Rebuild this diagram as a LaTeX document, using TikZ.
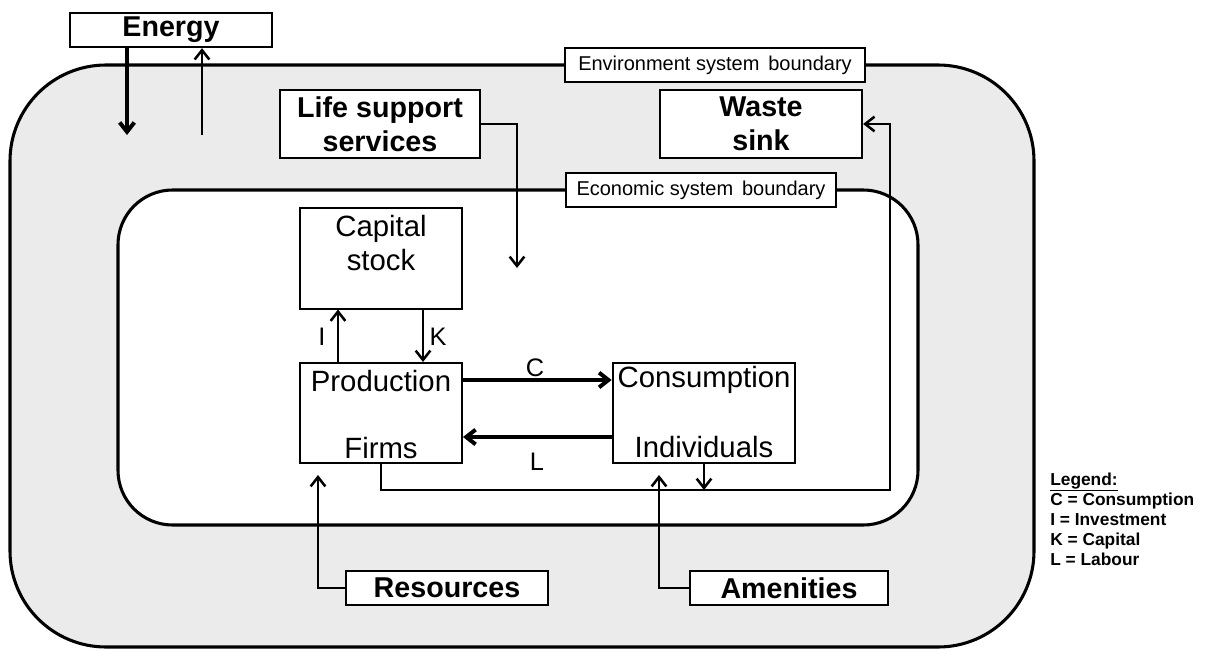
\documentclass[tikz,border=0pt]{standalone}
\usepackage{fontspec}
\setmainfont{Liberation Sans}
\usetikzlibrary{arrows.meta}
\definecolor{envgray}{RGB}{235,235,235}

\begin{document}
\begin{tikzpicture}[x=0.75pt, y=-0.75pt, >={Straight Barb[length=7pt,width=11pt]},
  envbox/.style={draw, fill=white, line width=1.7pt, inner sep=0pt, align=center, font=\fontsize{21.5}{25.5}\selectfont\bfseries},
  ecobox/.style={draw, fill=white, line width=1.5pt, inner sep=0pt},
  boundary/.style={draw, fill=white, line width=1.4pt, inner sep=0pt, font=\fontsize{15}{18}\selectfont},
  boxtext/.style={align=center, inner sep=0pt, font=\fontsize{22}{26}\selectfont},
  flowlabel/.style={inner sep=0pt, font=\fontsize{19}{22}\selectfont},
  flow/.style={->, line width=1.9pt}]
\useasboundingbox (0,0) rectangle (1207,650);
% system boundaries
\draw[fill=envgray, line width=2.3pt, rounded corners=72pt] (10,65) rectangle (1034,647);
\draw[fill=white, line width=2.3pt, rounded corners=41pt] (118,190) rectangle (918,525);
% environment
\node (energy) at (171,30) [envbox, minimum width=151.5pt, minimum height=25.5pt] {Energy};
\node (envlab) at (715,65) [boundary, minimum width=225pt, minimum height=25.5pt] {Environment system\, boundary};
\node (waste) at (761,124) [envbox, minimum width=151.5pt, minimum height=51pt] {Waste\\sink};
\node (life) at (380,124) [envbox, minimum width=150pt, minimum height=51pt] {Life support\\services};
\node (res) at (447,588) [envbox, minimum width=151pt, minimum height=25.5pt] {Resources};
\node (amen) at (789,588) [envbox, minimum width=148.5pt, minimum height=25.5pt] {Amenities};
% economy
\node (econlab) at (701,190) [boundary, minimum width=203pt, minimum height=25.5pt] {Economic system\, boundary};
\node (capital) at (381,258) [ecobox, minimum width=121.5pt, minimum height=75.75pt] {};
\node (captext) at (381,243) [boxtext] {Capital\\stock};
\node (prod) at (381,413) [ecobox, minimum width=121.5pt, minimum height=75pt] {};
\node (prodtop) at (381,381) [boxtext] {Production};
\node (prodbot) at (381,448) [boxtext] {Firms};
\node (cons) at (704,413) [ecobox, minimum width=137pt, minimum height=75pt] {};
\node (constop) at (704,380) [boxtext] {Consumption};
\node (consbot) at (704,447) [boxtext] {Individuals};
\coordinate (ein) at (127,135);
\coordinate (eout) at (202,135);
\coordinate (lifein) at (517,268);
\coordinate (wcorner) at (890,490);
\coordinate (iline) at (338,0);
\coordinate (kline) at (423,0);
\coordinate (cline) at (0,380);
\coordinate (lline) at (0,437);
\coordinate (restip) at (318,475);
\coordinate (amentip) at (659,475);
\draw[->, line width=3pt] (energy.south -| ein) -- (ein);
\draw[flow] (eout) -- (energy.south -| eout);
\draw[flow] (life.east) -| (lifein);
\draw[flow] (prod.north -| iline) -- (capital.south -| iline);
\draw[flow] (capital.south -| kline) -- (prod.north -| kline);
\draw[->, line width=3pt] (prod.east |- cline) -- (cons.west |- cline);
\draw[->, line width=3pt] (cons.west |- lline) -- (prod.east |- lline);
\draw[flow] (prod.south) |- (wcorner) |- (waste.east);
\draw[flow] (cons.south) -- (cons.south |- wcorner);
\draw[flow] (res.west) -| (restip);
\draw[flow] (amen.west) -| (amentip);
\node (ilab) at (322,337) [flowlabel] {I};
\node (klab) at (438,337) [flowlabel] {K};
\node (clab) at (535,368) [flowlabel] {C};
\node (llab) at (537,462) [flowlabel] {L};
% legend
\node (legend) at (1050,519) [anchor=west, align=left, inner sep=0pt, font=\fontsize{13}{15}\selectfont\bfseries] {\underline{Legend:}\\C = Consumption\\I = Investment\\K = Capital\\L = Labour};
\end{tikzpicture}
\end{document}
